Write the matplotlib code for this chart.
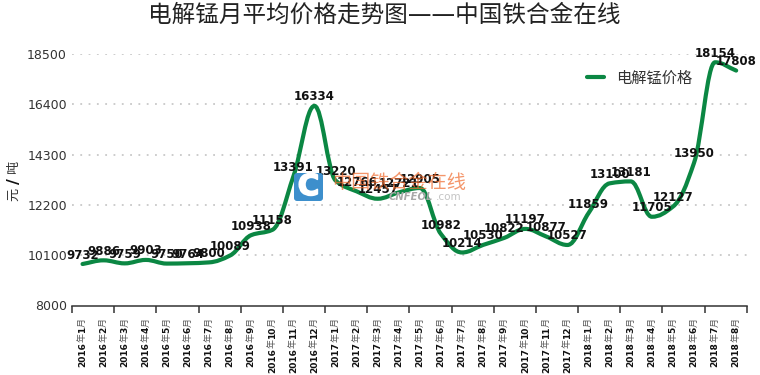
#!/usr/bin/env python3
import matplotlib
matplotlib.use("Agg")
import matplotlib.pyplot as plt
import matplotlib.patheffects as pe
from matplotlib.patches import FancyBboxPatch, PathPatch
from matplotlib.path import Path
from matplotlib.lines import Line2D
from matplotlib.transforms import IdentityTransform

plt.rcParams["font.family"] = ["DejaVu Sans", "Noto Sans CJK SC"]

CJK = ["Noto Sans CJK SC", "DejaVu Sans"]

years = ["2016"] * 12 + ["2017"] * 12 + ["2018"] * 8
months = list(range(1, 13)) + list(range(1, 13)) + list(range(1, 9))
prices = [
    9732, 9886, 9759, 9903, 9750, 9764, 9800, 10089, 10938, 11158, 13391, 16334,
    13220, 12766, 12457, 12721, 12905, 10982, 10214, 10530, 10822, 11197, 10877, 10527,
    11859, 13100, 13181, 11705, 12127, 13950, 18154, 17808,
]
y_ticks = [8000, 10100, 12200, 14300, 16400, 18500]

GREEN = "#0b8743"
DARK = "#333333"


def spline_path(xs, ys, handle=0.38):
    # monotone bezier through the points, flat at local extremes
    n = len(xs)
    slopes = [(ys[i + 1] - ys[i]) / (xs[i + 1] - xs[i]) for i in range(n - 1)]
    tangents = [slopes[0]]
    for i in range(1, n - 1):
        a, b = slopes[i - 1], slopes[i]
        tangents.append(0.0 if a * b <= 0 else 2 * a * b / (a + b))
    tangents.append(slopes[-1])
    verts = [(xs[0], ys[0])]
    codes = [Path.MOVETO]
    for i in range(1, n):
        dx = xs[i] - xs[i - 1]
        verts.append((xs[i - 1] + handle * dx, ys[i - 1] + handle * dx * tangents[i - 1]))
        verts.append((xs[i] - handle * dx, ys[i] - handle * dx * tangents[i]))
        verts.append((xs[i], ys[i]))
        codes += [Path.CURVE4] * 3
    return Path(verts, codes)


def stacked_month_label(ax, renderer, x, year, month):
    # bold digits and thin CJK in one rotated label, written from the top down
    pieces = [("月", False), (str(month), True), ("年", False), (year, True)]
    offset = -12.5
    for text, bold in pieces:
        t = ax.annotate(
            text, xy=(x, 0), xycoords=("data", "axes fraction"),
            xytext=(0, offset), textcoords="offset pixels",
            rotation=90, ha="center", va="top", color="#111111" if bold else "#555555",
            fontsize=6.5, fontweight="bold" if bold else "normal",
            family=["DejaVu Sans"] if bold else CJK,
        )
        offset -= t.get_window_extent(renderer).height - 0.2


fig = plt.figure(figsize=(7.6, 3.75), dpi=100)
ax = fig.add_axes([72 / 760, 1 - 305.5 / 375, (746.7 - 72) / 760, (305.5 - 54) / 375])

x_pos = list(range(len(prices)))
ax.set_xlim(-0.5, len(prices) - 0.5)
ax.set_ylim(8000, 18500)

ax.set_yticks(y_ticks)
ax.tick_params(axis="y", length=0, pad=3.6, labelsize=9, labelcolor=DARK)
ax.set_xticks([i - 0.5 for i in range(0, len(prices) + 1, 2)])
ax.set_xticklabels([])
ax.tick_params(axis="x", length=5, width=1.1, color=DARK)

for side in ("top", "right", "left"):
    ax.spines[side].set_visible(False)
ax.spines["bottom"].set_linewidth(1.1)
ax.spines["bottom"].set_color(DARK)

for val in y_ticks[1:]:
    ax.axhline(val, color="#c8c8c8", lw=1.3, linestyle=(0, (1, 3.6)), dash_capstyle="butt", zorder=1)

ax.add_patch(PathPatch(spline_path(x_pos, prices), fill=False, edgecolor=GREEN, lw=3.0,
                       capstyle="round", joinstyle="round", zorder=3))

for x, val in zip(x_pos, prices):
    ax.annotate(str(val), xy=(x, val), xytext=(0, 9), textcoords="offset pixels",
                ha="center", va="center", fontsize=8.5, fontweight="bold",
                color="#111111", zorder=4, annotation_clip=False)

renderer = fig.canvas.get_renderer()
for x, year, month in zip(x_pos, years, months):
    stacked_month_label(ax, renderer, x, year, month)

fig.text(384 / 760, 1 - 15 / 375, "电解锰月平均价格走势图——中国铁合金在线", ha="center", va="center",
         fontsize=17, color="#222222", family=["DejaVu Sans", "Noto Sans CJK SC"])

# y axis title, slash is heavier than the characters
fig.text(13.5 / 760, 1 - 194 / 375, "元", rotation=90, ha="center", va="center", fontsize=9.5,
         color=DARK, family=CJK)
fig.text(15 / 760, 1 - 181 / 375, "/", rotation=90, ha="center", va="center", fontsize=11.5,
         fontweight="bold", color="#111111")
fig.text(13.5 / 760, 1 - 167 / 375, "吨", rotation=90, ha="center", va="center", fontsize=9.5,
         color=DARK, family=CJK)

handle = Line2D([], [], color=GREEN, lw=3.0, solid_capstyle="round")
leg = fig.legend([handle], ["电解锰价格"], loc="center left", bbox_to_anchor=(587 / 760, 1 - 78 / 375),
                 frameon=False, handlelength=1.1, handletextpad=0.8, borderpad=0, borderaxespad=0,
                 prop={"family": CJK, "size": 11})
leg.get_texts()[0].set_color(DARK)

# watermark
logo = FancyBboxPatch((296, 375 - 199), 25, 24, boxstyle="round,pad=2,rounding_size=3",
                      transform=IdentityTransform(), facecolor="#3d8fcc", edgecolor="none", zorder=6)
fig.add_artist(logo)
logo_c = fig.text(308.5 / 760, 1 - 187 / 375, "C", ha="center", va="center", fontsize=21, fontweight="bold",
                  color="white", zorder=7)
logo_c.set_path_effects([pe.withStroke(linewidth=1.2, foreground="white")])
fig.text(332 / 760, 1 - 182 / 375, "中国铁合金在线", ha="left", va="center", fontsize=13.8,
         color="#f06a2c", alpha=0.7, family=CJK, zorder=7)
fig.text(389 / 760, 1 - 197.5 / 375, "CNFEOL", ha="left", va="center", fontsize=7.2, style="italic",
         fontweight="bold", color="#a8a8a8", zorder=7)
fig.text(436 / 760, 1 - 197.5 / 375, ".com", ha="left", va="center", fontsize=7.5,
         color="#c4c4c4", zorder=7)

fig.savefig("out.png", dpi=100)
